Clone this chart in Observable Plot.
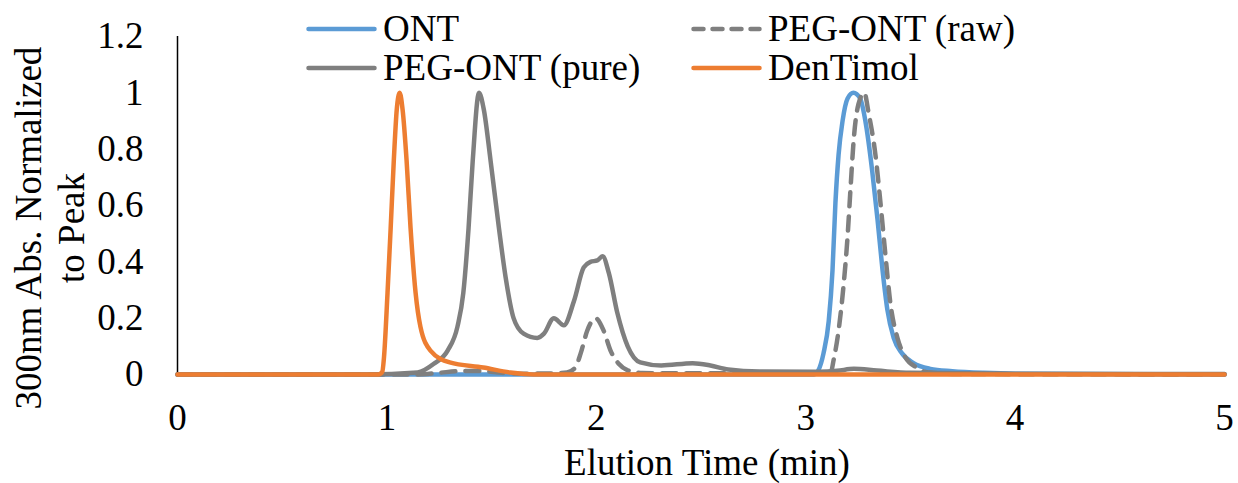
<!DOCTYPE html>
<html>
<head>
<meta charset="utf-8">
<script src="https://cdn.jsdelivr.net/npm/d3@7"></script>
<script src="https://cdn.jsdelivr.net/npm/@observablehq/plot@0.6"></script>
<style>
  html, body { margin: 0; padding: 0; background: #fff; }
  #wrap { position: relative; width: 1238px; height: 483px; font-family: "Liberation Serif", "Times New Roman", serif; color: #000; }
  #wrap svg { display: block; }
  .legend-item { position: absolute; display: flex; align-items: center; height: 37px; font-family: "Liberation Serif", "Times New Roman", serif; font-size: 37px; line-height: 37px; white-space: nowrap; }
  .legend-item svg { margin-right: 6px; }
  #ytitle { position: absolute; left: 49.5px; top: 228px; transform: translate(-50%, -50%) rotate(-90deg); font-size: 37px; line-height: 43px; text-align: center; white-space: nowrap; }
  #xtitle { position: absolute; left: 707px; top: 444px; transform: translateX(-50%); font-size: 37px; line-height: 37px; white-space: nowrap; }
</style>
</head>
<body>
<div id="wrap"></div>
<script>
// Elution time (min) and 300 nm absorbance normalized to each trace's peak
const ontTime = [0, 1.0, 3.04, 3.06, 3.085, 3.11, 3.128, 3.142, 3.157, 3.176, 3.20, 3.228, 3.26, 3.285, 3.318, 3.343, 3.367, 3.39, 3.42, 3.46, 3.515, 3.595, 3.7, 3.85, 4.0, 5.0];
const ontAbs  = [0, 0, 0, 0.014, 0.075, 0.19, 0.37, 0.61, 0.78, 0.9, 0.98, 1.0, 0.98, 0.9, 0.72, 0.55, 0.37, 0.23, 0.13, 0.075, 0.04, 0.02, 0.012, 0.006, 0.003, 0];

const rawTime = [0, 1.15, 1.25, 1.35, 1.45, 1.55, 1.65, 1.8, 1.86, 1.90, 1.925, 1.957, 1.996, 2.035, 2.068, 2.107, 2.15, 2.22, 2.5, 3.0, 3.1, 3.12, 3.133, 3.157, 3.18, 3.20, 3.214, 3.23, 3.252, 3.28, 3.30, 3.333, 3.357, 3.38, 3.405, 3.438, 3.477, 3.53, 3.58, 3.7, 5.0];
const rawAbs  = [0, 0, 0.006, 0.012, 0.012, 0.006, 0.003, 0.004, 0.007, 0.025, 0.074, 0.156, 0.2, 0.156, 0.085, 0.038, 0.015, 0.005, 0.004, 0.004, 0.004, 0.007, 0.05, 0.156, 0.31, 0.49, 0.66, 0.84, 0.96, 1.0, 0.93, 0.78, 0.61, 0.43, 0.25, 0.13, 0.06, 0.025, 0.008, 0.002, 0];

const pureTime = [0, 0.9, 1.146, 1.224, 1.29, 1.337, 1.365, 1.39, 1.41, 1.44, 1.463, 1.495, 1.535, 1.567, 1.605, 1.653, 1.718, 1.75, 1.797, 1.845, 1.893, 1.94, 1.972, 2.005, 2.03, 2.06, 2.10, 2.15, 2.21, 2.31, 2.46, 2.545, 2.63, 2.78, 3.06, 3.15, 3.23, 3.34, 3.5, 4.0, 5.0];
const pureAbs  = [0, 0, 0.007, 0.038, 0.085, 0.17, 0.29, 0.52, 0.76, 1.0, 0.94, 0.76, 0.52, 0.345, 0.2, 0.145, 0.13, 0.145, 0.2, 0.175, 0.26, 0.38, 0.4, 0.405, 0.42, 0.36, 0.22, 0.1, 0.043, 0.032, 0.04, 0.032, 0.018, 0.011, 0.01, 0.013, 0.02, 0.014, 0.006, 0.003, 0.002];

const denTime = [0, 0.96, 0.978, 0.986, 1.003, 1.018, 1.033, 1.047, 1.061, 1.075, 1.094, 1.113, 1.137, 1.16, 1.208, 1.30, 1.46, 1.59, 1.7, 5.0];
const denAbs  = [0, 0, 0.01, 0.06, 0.29, 0.52, 0.76, 0.94, 1.0, 0.94, 0.76, 0.52, 0.29, 0.17, 0.085, 0.043, 0.025, 0.007, 0, 0];

const seriesNames = ["ONT", "PEG-ONT (raw)", "PEG-ONT (pure)", "DenTimol"];
const seriesColors = ["#5B9BD5", "#7F7F7F", "#7F7F7F", "#ED7D31"];
const seriesDash = [null, "14,10", null, null];
const legendDash = [null, "10,9", null, null];
const xTicks = [0, 1, 2, 3, 4, 5];
const yTicks = [0, 0.2, 0.4, 0.6, 0.8, 1, 1.2];

const traces = [
  [ontTime, ontAbs],
  [rawTime, rawAbs],
  [pureTime, pureAbs],
  [denTime, denAbs]
].map(([t, a], i) => t.map((time, j) => ({series: seriesNames[i], time, abs: a[j]})));

const lineMarks = traces.map((rows, i) => Plot.line(rows, {
  x: "time",
  y: "abs",
  stroke: seriesColors[i],
  strokeWidth: 4.5,
  strokeDasharray: seriesDash[i] || undefined,
  strokeLinecap: "round",
  strokeLinejoin: "round",
  curve: "monotone-x"
}));

const chart = Plot.plot({
  width: 1238,
  height: 483,
  marginLeft: 177,
  marginRight: 14,
  marginTop: 36,
  marginBottom: 109,
  style: {fontFamily: "'Liberation Serif', 'Times New Roman', serif", fontSize: "37px", color: "#000", background: "#fff"},
  x: {domain: [0, 5]},
  y: {domain: [0, 1.2]},
  marks: [
    Plot.axisX({ticks: xTicks, tickSize: 0, tickPadding: 29, tickFormat: d => String(d), label: null}),
    Plot.axisY({ticks: yTicks, tickSize: 0, tickPadding: 34, tickFormat: d => String(+d.toFixed(1)), label: null}),
    Plot.ruleX([0], {y1: 0, y2: 1.2, stroke: "#000", strokeWidth: 1.5}),
    ...lineMarks
  ]
});

const wrap = document.getElementById("wrap");
wrap.appendChild(chart);

// Legend: two columns, two rows, laid over the top of the plot area
const legendSlots = [
  {name: "ONT", left: 306, top: 10},
  {name: "PEG-ONT (raw)", left: 691, top: 10},
  {name: "PEG-ONT (pure)", left: 306, top: 49},
  {name: "DenTimol", left: 691, top: 49}
];
for (const slot of legendSlots) {
  const i = seriesNames.indexOf(slot.name);
  const item = document.createElement("div");
  item.className = "legend-item";
  item.style.left = slot.left + "px";
  item.style.top = slot.top + "px";
  const dash = legendDash[i] ? ` stroke-dasharray="${legendDash[i]}"` : "";
  item.innerHTML = `<svg width="71" height="10"><line x1="2.5" y1="5" x2="68.5" y2="5" stroke="${seriesColors[i]}" stroke-width="4.5" stroke-linecap="round"${dash}/></svg><span>${slot.name}</span>`;
  wrap.appendChild(item);
}

const yTitle = document.createElement("div");
yTitle.id = "ytitle";
yTitle.innerHTML = "300nm Abs. Normalized<br>to Peak";
wrap.appendChild(yTitle);

const xTitle = document.createElement("div");
xTitle.id = "xtitle";
xTitle.textContent = "Elution Time (min)";
wrap.appendChild(xTitle);
</script>
</body>
</html>
